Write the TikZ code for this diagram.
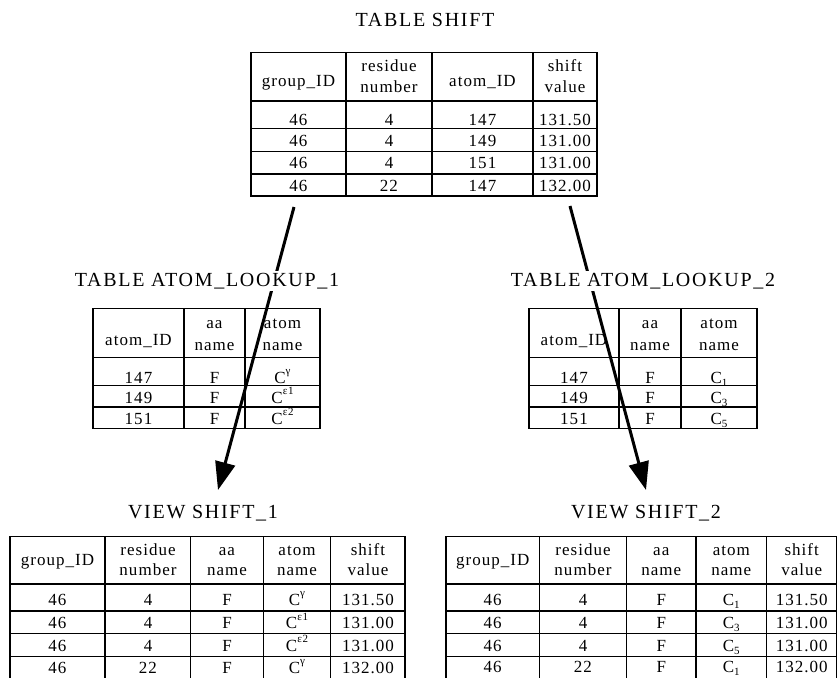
\documentclass[tikz,border=0pt]{standalone}
\usepackage{fontspec}
\setmainfont{Liberation Serif}[LetterSpace=6]
\newfontfamily\headfont{Liberation Serif}[LetterSpace=8.5]
\usetikzlibrary{arrows.meta}

\newcommand\cellsize{\fontsize{17}{21}\selectfont}
\newcommand\titlesize{\headfont\fontsize{20}{24}\selectfont}
\newcommand\upidx[1]{\raisebox{0.5em}{\fontsize{11}{11}\selectfont #1}}
\newcommand\dnidx[1]{\raisebox{-0.18em}{\fontsize{11}{11}\selectfont #1}}

\begin{document}
\begin{tikzpicture}[x=1pt,y=-1pt,
  rule/.style={line width=1.3pt},
  cell/.style={anchor=base,inner sep=0pt,font=\cellsize},
  title/.style={anchor=base,inner sep=2pt,fill=white,font=\titlesize},
  flow/.style={line width=3pt,-{Triangle[length=28pt,width=20pt]}}]

\useasboundingbox (0,0) rectangle (839,678);

% ---- connectors: SHIFT -> lookup -> view
\coordinate (la) at (294,207);
\coordinate (lb) at (218,490);
\coordinate (ra) at (570,206);
\coordinate (rb) at (646,490);
\draw[flow] (la) -- (lb);
\draw[flow] (ra) -- (rb);

% ---- titles
\node[title] (tshift) at (425,26) {TABLE SHIFT};
\node[title] (tlook1) at (207,286) {TABLE ATOM\_LOOKUP\_1};
\node[title] (tlook2) at (643,286) {TABLE ATOM\_LOOKUP\_2};
\node[title] (tview1) at (203,518) {VIEW SHIFT\_1};
\node[title] (tview2) at (646,518) {VIEW SHIFT\_2};

% ---- TABLE SHIFT
\draw[rule] (251,52.7) rectangle (597,196);
\foreach \x in {346,432,533} \draw[rule] (\x,52.7) -- (\x,196);
\foreach \y in {101,128.3,151.7,174} \draw[rule] (251,\y) -- (597,\y);
\node[cell] (sh1)  at (298.5,86) {group\_ID};
\node[cell] (sh2a) at (389,71) {residue};
\node[cell] (sh2b) at (389,92) {number};
\node[cell] (sh3)  at (482.5,86) {atom\_ID};
\node[cell] (sh4a) at (565,71) {shift};
\node[cell] (sh4b) at (565,92) {value};
\foreach \r/\y/\a/\b/\c/\d in {1/125.5/46/4/147/131.50,2/146.5/46/4/149/131.00,
                             3/168.5/46/4/151/131.00,4/191.5/46/22/147/132.00}{
  \node[cell] (s\r a) at (298.5,\y) {\a};
  \node[cell] (s\r b) at (389,\y) {\b};
  \node[cell] (s\r c) at (482.5,\y) {\c};
  \node[cell] (s\r d) at (565,\y) {\d};
}

% ---- TABLE ATOM_LOOKUP_1
\draw[rule] (93,308.5) rectangle (320,428.5);
\foreach \x in {184,245} \draw[rule] (\x,308.5) -- (\x,428.5);
\foreach \y in {357.5,385.5,407} \draw[rule] (93,\y) -- (320,\y);
\node[cell] (pa1) at (138.5,345) {atom\_ID};
\node[cell] (pa2) at (214.5,328) {aa};
\node[cell] (pa3) at (214.5,350) {name};
\node[cell] (pa4) at (282.5,328) {atom};
\node[cell] (pa5) at (282.5,350) {name};
\foreach \r/\y/\a/\c in {1/383/147/{C\upidx{γ}},2/403/149/{C\upidx{ε1}},3/424/151/{C\upidx{ε2}}}{
  \node[cell] (p\r a) at (138.5,\y) {\a};
  \node[cell] (p\r b) at (214.5,\y) {F};
  \node[cell] (p\r c) at (282.5,\y) {\c};
}

% ---- TABLE ATOM_LOOKUP_2
\draw[rule] (529,308.5) rectangle (757,428.5);
\foreach \x in {619,681} \draw[rule] (\x,308.5) -- (\x,428.5);
\foreach \y in {357.5,385.5,407} \draw[rule] (529,\y) -- (757,\y);
\node[cell] (qa1) at (574,345) {atom\_ID};
\node[cell] (qa2) at (650,328) {aa};
\node[cell] (qa3) at (650,350) {name};
\node[cell] (qa4) at (719,328) {atom};
\node[cell] (qa5) at (719,350) {name};
\foreach \r/\y/\a/\c in {1/383/147/{C\dnidx{1}},2/403/149/{C\dnidx{3}},3/424/151/{C\dnidx{5}}}{
  \node[cell] (q\r a) at (574,\y) {\a};
  \node[cell] (q\r b) at (650,\y) {F};
  \node[cell] (q\r c) at (719,\y) {\c};
}

% ---- VIEW SHIFT_1 (runs on past the lower edge)
\draw[rule] (10,682) -- (10,536.7) -- (405,536.7) -- (405,682);
\foreach \x in {105,190.7,263.3,330.7} \draw[rule] (\x,536.7) -- (\x,682);
\foreach \y in {584,611,633.5,656.5} \draw[rule] (10,\y) -- (405,\y);
\node[cell] (va1)  at (57.5,565) {group\_ID};
\node[cell] (va2a) at (148,555) {residue};
\node[cell] (va2b) at (148,575) {number};
\node[cell] (va3a) at (227,555) {aa};
\node[cell] (va3b) at (227,575) {name};
\node[cell] (va4a) at (297,555) {atom};
\node[cell] (va4b) at (297,575) {name};
\node[cell] (va5a) at (368,555) {shift};
\node[cell] (va5b) at (368,575) {value};
\foreach \r/\y/\b/\d/\e in {1/605/4/{C\upidx{γ}}/131.50,2/628.5/4/{C\upidx{ε1}}/131.00,
                          3/651/4/{C\upidx{ε2}}/131.00,4/673/22/{C\upidx{γ}}/132.00}{
  \node[cell] (v\r a) at (57.5,\y) {46};
  \node[cell] (v\r b) at (148,\y) {\b};
  \node[cell] (v\r c) at (227,\y) {F};
  \node[cell] (v\r d) at (297,\y) {\d};
  \node[cell] (v\r e) at (368,\y) {\e};
}

% ---- VIEW SHIFT_2 (runs on past the lower edge)
\draw[rule] (446,682) -- (446,536.7) -- (836.7,536.7) -- (836.7,682);
\foreach \x in {539.3,626.7,696,766.7} \draw[rule] (\x,536.7) -- (\x,682);
\foreach \y in {584,611,633.5,656.5} \draw[rule] (446,\y) -- (836.7,\y);
\node[cell] (wa1)  at (492.7,565) {group\_ID};
\node[cell] (wa2a) at (583,555) {residue};
\node[cell] (wa2b) at (583,575) {number};
\node[cell] (wa3a) at (661.3,555) {aa};
\node[cell] (wa3b) at (661.3,575) {name};
\node[cell] (wa4a) at (731.3,555) {atom};
\node[cell] (wa4b) at (731.3,575) {name};
\node[cell] (wa5a) at (801.7,555) {shift};
\node[cell] (wa5b) at (801.7,575) {value};
\foreach \r/\y/\b/\d/\e in {1/605/4/{C\dnidx{1}}/131.50,2/628.5/4/{C\dnidx{3}}/131.00,
                          3/651/4/{C\dnidx{5}}/131.00,4/672.5/22/{C\dnidx{1}}/132.00}{
  \node[cell] (w\r a) at (492.7,\y) {46};
  \node[cell] (w\r b) at (583,\y) {\b};
  \node[cell] (w\r c) at (661.3,\y) {F};
  \node[cell] (w\r d) at (731.3,\y) {\d};
  \node[cell] (w\r e) at (801.7,\y) {\e};
}
\end{tikzpicture}
\end{document}
